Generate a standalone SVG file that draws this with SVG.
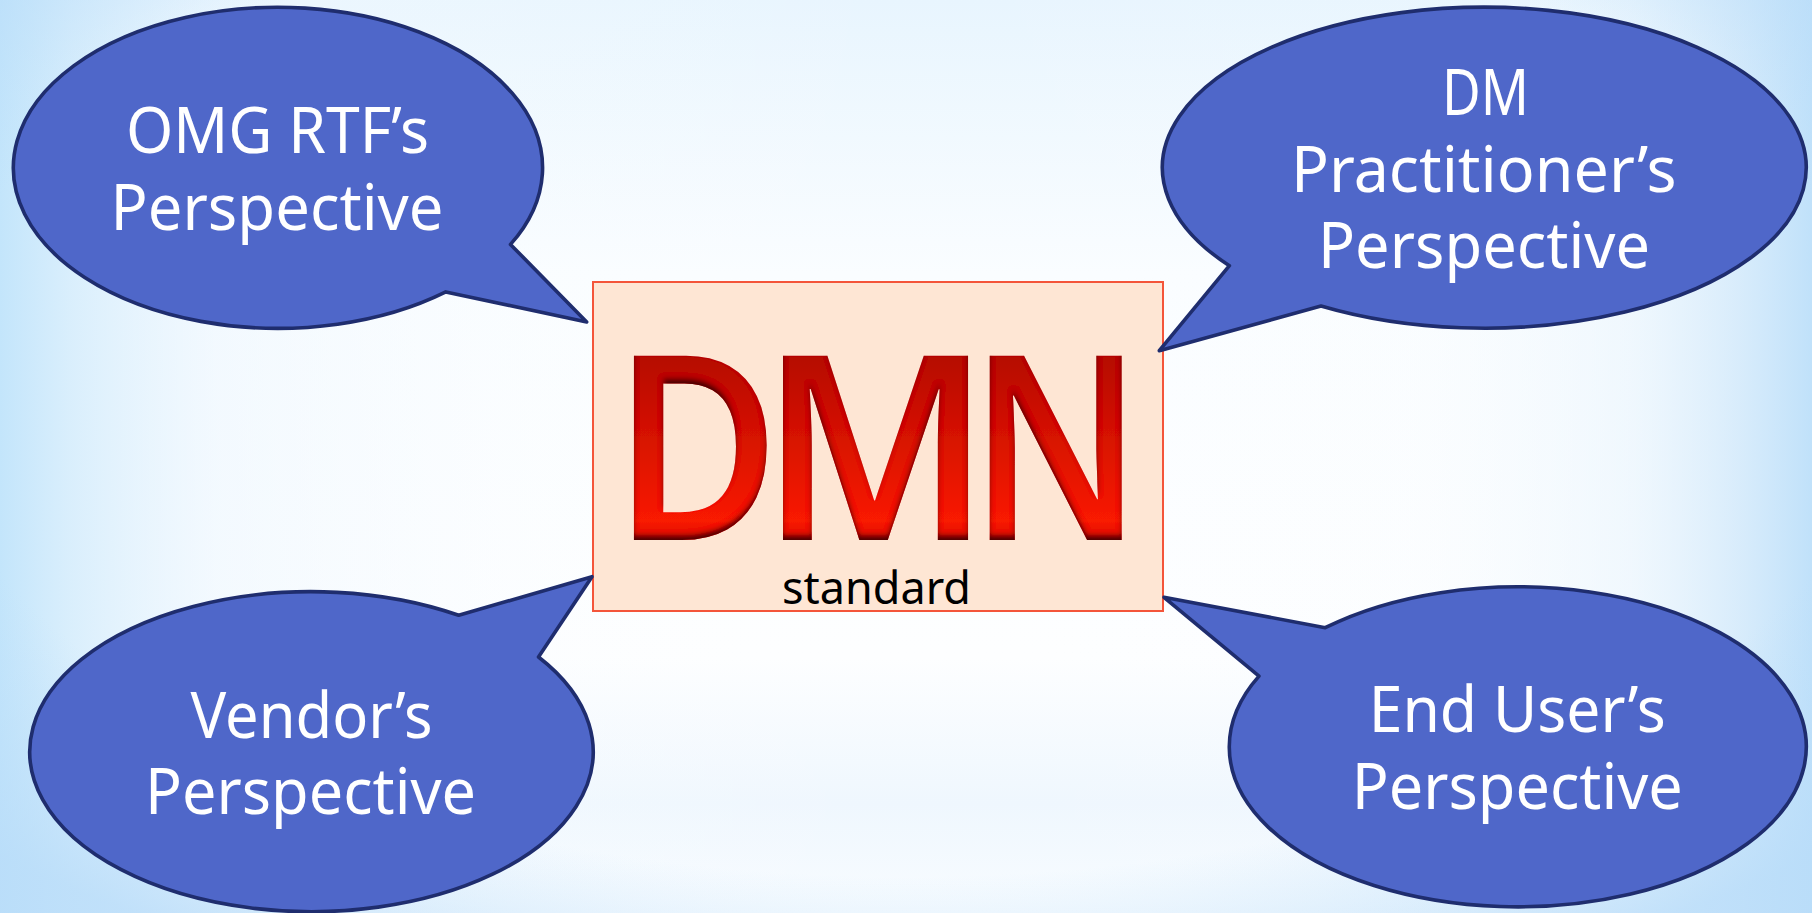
<svg xmlns="http://www.w3.org/2000/svg" width="1812" height="913" viewBox="0 0 1812 913">
<style>
.c{fill:#4f67c9;stroke:#1f2d6e;stroke-width:3.6;stroke-linejoin:round}
.t{font-family:"Noto Sans",sans-serif;font-size:63px;fill:#fff;font-variant-ligatures:none}
.d{font-family:"Noto Sans",sans-serif;font-weight:600;font-size:258px;fill:url(#red)}
</style>
<defs>
<linearGradient id="side" x1="0" x2="1" y1="0" y2="0">
<stop offset="0" stop-color="#c3e5fb"/><stop offset="0.04" stop-color="#d6edfc" stop-opacity="0.9"/><stop offset="0.12" stop-color="#ecf6fe" stop-opacity="0.55"/><stop offset="0.3" stop-color="#f8fcff" stop-opacity="0.15"/><stop offset="0.5" stop-color="#fff" stop-opacity="0"/><stop offset="0.78" stop-color="#f4fafe" stop-opacity="0.1"/><stop offset="0.9" stop-color="#e8f4fd" stop-opacity="0.6"/><stop offset="0.96" stop-color="#d4eafb" stop-opacity="0.9"/><stop offset="1" stop-color="#c0e1fa"/>
</linearGradient>
<linearGradient id="vert" x1="0" x2="0" y1="0" y2="1">
<stop offset="0" stop-color="#e8f5fe"/><stop offset="0.3" stop-color="#fafdff"/><stop offset="0.72" stop-color="#fdfeff"/><stop offset="0.88" stop-color="#eff7fe"/><stop offset="1" stop-color="#f8fcff"/>
</linearGradient>
<radialGradient id="corner" cx="0.5" cy="0.42" r="0.72">
<stop offset="0.75" stop-color="#b8dcf9" stop-opacity="0"/><stop offset="1" stop-color="#b8dcf9" stop-opacity="0.8"/>
</radialGradient>
<linearGradient id="red" gradientUnits="userSpaceOnUse" x1="0" x2="0" y1="356" y2="543">
<stop offset="0" stop-color="#b50a00"/><stop offset="0.88" stop-color="#f91a04"/><stop offset="1" stop-color="#d81400"/>
</linearGradient>
<filter id="inner" x="-5%" y="-5%" width="110%" height="110%">
<feGaussianBlur in="SourceAlpha" stdDeviation="2.5" result="b"/>
<feOffset in="b" dy="-5" result="bo"/>
<feComposite in="SourceAlpha" in2="bo" operator="out" result="e"/>
<feFlood flood-color="#3a0400" flood-opacity="0.95"/>
<feComposite in2="e" operator="in" result="s"/>
<feMerge><feMergeNode in="SourceGraphic"/><feMergeNode in="s"/></feMerge>
</filter>
</defs>
<rect id="bg" width="1812" height="913" fill="url(#vert)"/>
<rect id="bg2" width="1812" height="913" fill="url(#side)"/>
<rect id="bg3" width="1812" height="913" fill="url(#corner)"/>
<g id="connectors"/>
<g id="center">
<rect x="593" y="282" width="570" height="329" fill="#fee6d4" stroke="#f4553a" stroke-width="2"/>
<text class="d" y="540" filter="url(#inner)"><tspan x="613.7" textLength="166" lengthAdjust="spacingAndGlyphs">D</tspan><tspan x="760" textLength="231" lengthAdjust="spacingAndGlyphs">M</tspan><tspan x="969.7" textLength="172" lengthAdjust="spacingAndGlyphs">N</tspan></text>
<text x="782" y="604" font-family="'Noto Sans',sans-serif" font-size="45" fill="#000" textLength="189" lengthAdjust="spacingAndGlyphs">standard</text>
</g>
<g id="omg">
<path class="c" d="M510.5 244.4A264.6 160.5 0 1 0 445.8 291.9L586.7 322Z"/>
<text class="t" x="126" y="153" textLength="303" lengthAdjust="spacingAndGlyphs">OMG RTF’s</text>
<text class="t" x="110.5" y="230" textLength="333" lengthAdjust="spacingAndGlyphs">Perspective</text>
</g>
<g id="dm">
<path class="c" d="M1229.4 265.7A321.9 160.5 0 1 1 1321 306L1159.3 350.7Z"/>
<text class="t" x="1442" y="115" textLength="87" lengthAdjust="spacingAndGlyphs">DM</text>
<text class="t" x="1291" y="191.7" textLength="385.5" lengthAdjust="spacingAndGlyphs">Practitioner’s</text>
<text class="t" x="1318" y="268" textLength="332" lengthAdjust="spacingAndGlyphs">Perspective</text>
</g>
<g id="vendor">
<path class="c" d="M538.5 657A281.7 160 0 1 1 458.7 615.3L592 576.7Z"/>
<text class="t" x="190.5" y="737.7" textLength="242" lengthAdjust="spacingAndGlyphs">Vendor’s</text>
<text class="t" x="145" y="814.3" textLength="331" lengthAdjust="spacingAndGlyphs">Perspective</text>
</g>
<g id="enduser">
<path class="c" d="M1259 676.1A288.5 160 0 1 0 1325.2 627.7L1164 597.3Z"/>
<text class="t" x="1368.7" y="732" textLength="297" lengthAdjust="spacingAndGlyphs">End User’s</text>
<text class="t" x="1351.8" y="809" textLength="331" lengthAdjust="spacingAndGlyphs">Perspective</text>
</g>
</svg>
